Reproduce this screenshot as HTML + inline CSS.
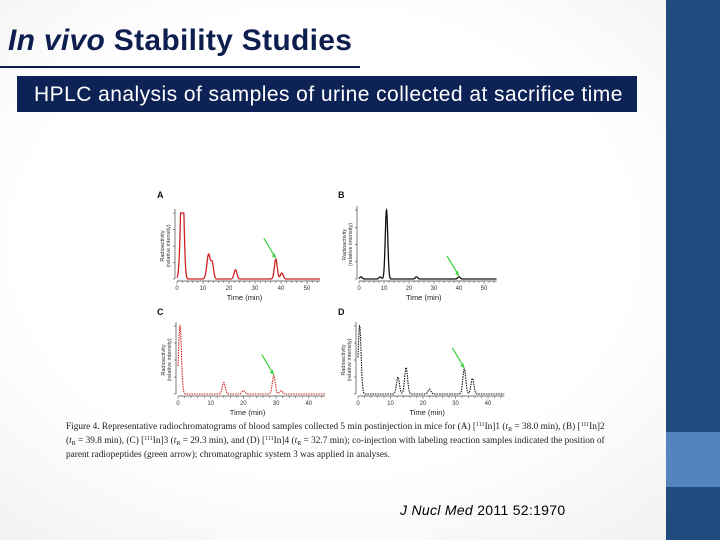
<!DOCTYPE html>
<html><head><meta charset="utf-8"><style>
html,body{margin:0;padding:0}
body{width:720px;height:540px;position:relative;overflow:hidden;font-family:"Liberation Sans",sans-serif;
background:radial-gradient(ellipse at 45% 45%,#ffffff 55%,#efefef 100%);}
#title{position:absolute;left:8px;top:24px;font-size:30px;font-weight:bold;color:#0e1f4f;white-space:nowrap;letter-spacing:0.3px}
#uline{position:absolute;left:0;top:66px;width:360px;height:2px;background:#0e1f4f}
#sub{position:absolute;left:17px;top:76px;width:620px;height:36px;background:#0d2356;color:#fff;font-size:21px;line-height:37px;white-space:nowrap}
#sub span{position:absolute;left:17px;letter-spacing:0.45px}
#side{position:absolute;left:666px;top:0;width:54px;height:540px;background:#214b7f}
#side2{position:absolute;left:666px;top:432px;width:54px;height:55px;background:#5384be}
#cite{position:absolute;left:400px;top:502px;font-size:14px;color:#000;white-space:nowrap;letter-spacing:0.3px}
#cap{position:absolute;left:66px;top:420px;width:532px;font-family:"Liberation Serif",serif;font-size:9.3px;line-height:14px;color:#222;white-space:nowrap}
#cap sup,#cap sub{font-size:6px;line-height:0;position:relative;vertical-align:baseline}
#cap sup{top:-3.5px}
#cap sub{top:2px}
svg{position:absolute;left:0;top:0}
</style></head><body>
<div id="title"><i>In vivo</i> Stability Studies</div>
<div id="uline"></div>
<div id="sub"><span>HPLC analysis of samples of urine collected at sacrifice time</span></div>
<div id="side"></div>
<div id="side2"></div>
<svg id="fig" width="720" height="540"></svg>
<div id="cap">Figure 4. Representative radiochromatograms of blood samples collected 5 min postinjection in mice for (A) [<sup>111</sup>In]1 (<i>t</i><sub>R</sub> = 38.0 min), (B) [<sup>111</sup>In]2<br>(<i>t</i><sub>R</sub> = 39.8 min), (C) [<sup>111</sup>In]3 (<i>t</i><sub>R</sub> = 29.3 min), and (D) [<sup>111</sup>In]4 (<i>t</i><sub>R</sub> = 32.7 min); co-injection with labeling reaction samples indicated the position of<br>parent radiopeptides (green arrow); chromatographic system 3 was applied in analyses.</div>
<div id="cite"><i>J Nucl Med</i> 2011 52:1970</div>
<script>
// Panel data: peak retention times (min), relative heights
const peaksA_t=[1.0,1.8,2.3,11.5,12.2,13.5,22.5,38.0,40.3];
const peaksA_h=[0.08,1.0,0.85,0.08,0.33,0.25,0.14,0.30,0.09];
const peaksB_t=[0.8,8.5,11.0,23.0,40.0];
const peaksB_h=[0.03,0.03,1.0,0.03,0.03];
const peaksC_t=[0.6,14.0,20.0,29.3,31.5];
const peaksC_h=[1.0,0.17,0.05,0.27,0.05];
const peaksD_t=[0.5,12.3,14.8,22.0,32.7,35.2];
const peaksD_h=[1.0,0.25,0.39,0.07,0.37,0.23];
const ticksAB=[0,10,20,30,40,50];
const ticksCD=[0,10,20,30,40];
const arrowsT=[38.0,40.0,29.3,32.7];

const NS="http://www.w3.org/2000/svg";
const svg=document.getElementById('fig');
function el(tag,attrs,parent){const e=document.createElementNS(NS,tag);for(const k in attrs)e.setAttribute(k,attrs[k]);(parent||svg).appendChild(e);return e;}

const panels=[
 {lab:'A',lx:157,ly:198,x0:177,y0:279,xmax:55,ppm:2.6,H:66,t:peaksA_t,h:peaksA_h,col:'#d02020',dash:false,ticks:ticksAB,arr:arrowsT[0],sg:0.55},
 {lab:'B',lx:338,ly:198,x0:359,y0:279,xmax:55,ppm:2.5,H:69,t:peaksB_t,h:peaksB_h,col:'#111',dash:false,ticks:ticksAB,arr:arrowsT[1],sg:0.5},
 {lab:'C',lx:157,ly:315,x0:178,y0:394,xmax:45,ppm:3.27,H:68,t:peaksC_t,h:peaksC_h,col:'#d02020',dash:true,ticks:ticksCD,arr:arrowsT[2],sg:0.45},
 {lab:'D',lx:338,ly:315,x0:358,y0:394,xmax:45,ppm:3.25,H:68,t:peaksD_t,h:peaksD_h,col:'#111',dash:true,ticks:ticksCD,arr:arrowsT[3],sg:0.45}
];
panels.forEach(p=>{
 const g=el('g',{});
 
 
 const X=t=>p.x0+t*p.ppm, Y=v=>p.y0-v*p.H;
 const f=t=>{let s=0;for(let i=0;i<p.t.length;i++){s+=p.h[i]*Math.exp(-Math.pow(t-p.t[i],2)/(2*p.sg*p.sg));}return Math.min(s,1);};
 const lbl=el('text',{x:p.lx,y:p.ly,'font-size':9,'font-weight':'bold',fill:'#111'},g);lbl.textContent=p.lab;
 
 
 el('line',{x1:p.x0,y1:p.y0+2,x2:X(p.xmax),y2:p.y0+2,stroke:'#444','stroke-width':0.7},g);
 el('line',{x1:p.x0-2,y1:p.y0,x2:p.x0-2,y2:p.y0-p.H-4,stroke:'#444','stroke-width':0.7},g);
 for(let k=0;k<=4;k++)el('line',{x1:p.x0-4,y1:p.y0-k*p.H/4,x2:p.x0-2,y2:p.y0-k*p.H/4,stroke:'#444','stroke-width':0.6},g);
 for(let t=0;t<=p.xmax;t+=2)el('line',{x1:X(t),y1:p.y0+2,x2:X(t),y2:p.y0+(t%10==0?5:4),stroke:'#444','stroke-width':0.5},g);
 p.ticks.forEach(t=>{const tx=el('text',{x:X(t),y:p.y0+11,'font-size':6,'text-anchor':'middle',fill:'#333'},g);tx.textContent=t;});
 const xt=el('text',{x:X(p.xmax/2)-4,y:p.y0+21,'font-size':7.5,'text-anchor':'middle',fill:'#222'},g);xt.textContent='Time (min)';
 
 
 const yc=p.y0-p.H/2;
 const yt=el('text',{x:0,y:0,'font-size':5.5,'text-anchor':'middle',fill:'#333',transform:`translate(${p.x0-13},${yc}) rotate(-90)`},g);yt.textContent='Radioactivity';
 
 
 const yt2=el('text',{x:0,y:0,'font-size':5.5,'text-anchor':'middle',fill:'#333',transform:`translate(${p.x0-7},${yc}) rotate(-90)`},g);yt2.textContent='(relative intensity)';
 let d='';for(let t=0;t<=p.xmax;t+=0.05){d+=(t==0?'M':'L')+X(t).toFixed(2)+','+Y(f(t)).toFixed(2);}
 const tr=el('path',{d:d,fill:'none',stroke:p.col,'stroke-width':p.dash?1.1:1.3,'stroke-dasharray':p.dash?'1.5,1':'none'},g);
 
 
 const ax=X(p.arr), ay=Y(f(p.arr))-1;
 const ar=el('line',{x1:ax-12,y1:ay-20,x2:ax,y2:ay,stroke:'#3ad23a','stroke-width':1.2},g);
 
 
 el('polygon',{points:`${ax},${ay} ${ax-4},${ay-2} ${ax-1},${ay-5}`,fill:'#3ad23a'},g);
});
</script>
</body></html>
